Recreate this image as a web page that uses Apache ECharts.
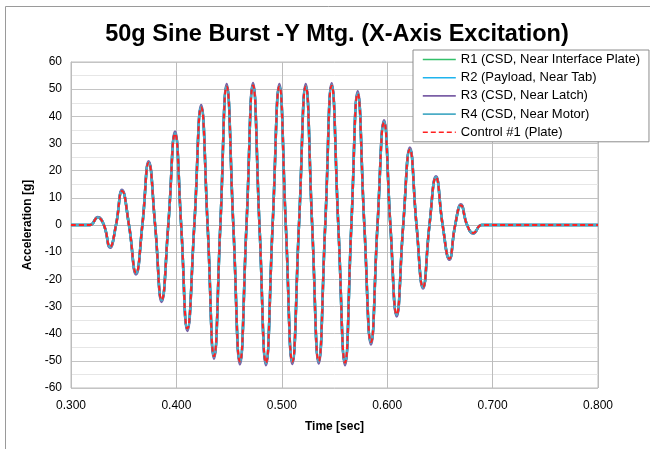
<!DOCTYPE html>
<html>
<head>
<meta charset="utf-8">
<script src="https://cdn.jsdelivr.net/npm/echarts@6/dist/echarts.min.js"></script>
<style>html,body{margin:0;padding:0;background:#fff;}#c{width:650px;height:449px;}</style>
</head>
<body>
<div id="c"></div>
<script>
var time = [0.300, 0.310, 0.318, 0.3253, 0.3312, 0.337, 0.3427, 0.3484, 0.3550, 0.3617, 0.3677, 0.3737, 0.3798, 0.386, 0.3923, 0.3987, 0.4045, 0.4104, 0.4170, 0.4235, 0.4296, 0.4357, 0.4417, 0.4477, 0.4540, 0.4603, 0.4665, 0.4727, 0.4788, 0.485, 0.4913, 0.4977, 0.5038, 0.510, 0.5163, 0.5227, 0.5288, 0.535, 0.5412, 0.5473, 0.5536, 0.560, 0.5660, 0.572, 0.5783, 0.5846, 0.5908, 0.597, 0.6030, 0.609, 0.6152, 0.6215, 0.6278, 0.634, 0.6401, 0.6463, 0.6526, 0.659, 0.6645, 0.670, 0.6758, 0.6817, 0.6897, 0.700, 0.800];

var r1 = [0, 0, 0, 2.8, 0, -8.1, 0, 12.6, 0, -17.7, 0, 23.0, 0, -27.7, 0, 33.8, 0, -38.3, 0, 43.5, 0, -48.5, 0, 51.2, 0, -50.5, 0, 51.6, 0, -50.9, 0, 51.2, 0, -50.5, 0, 51.2, 0, -50.3, 0, 51.5, 0, -50.9, 0, 48.5, 0, -43.3, 0, 38.0, 0, -33.1, 0, 28.0, 0, -23.0, 0, 17.6, 0, -12.5, 0, 7.4, 0, -3.0, 0, 0, 0];
var r2 = [0, 0, 0, 2.8, 0, -8.1, 0, 12.6, 0, -17.7, 0, 23.0, 0, -27.7, 0, 33.8, 0, -38.3, 0, 43.5, 0, -48.5, 0, 51.2, 0, -50.5, 0, 51.6, 0, -50.9, 0, 51.2, 0, -50.5, 0, 51.2, 0, -50.3, 0, 51.5, 0, -50.9, 0, 48.5, 0, -43.3, 0, 38.0, 0, -33.1, 0, 28.0, 0, -23.0, 0, 17.6, 0, -12.5, 0, 7.4, 0, -3.0, 0, 0, 0];
var r3 = [0, 0, 0, 2.9, 0, -8.4, 0, 13.0, 0, -18.2, 0, 23.5, 0, -28.3, 0, 34.4, 0, -39.0, 0, 44.2, 0, -49.2, 0, 51.9, 0, -51.3, 0, 52.3, 0, -51.6, 0, 51.9, 0, -51.2, 0, 51.9, 0, -51.0, 0, 52.2, 0, -51.6, 0, 49.2, 0, -44.0, 0, 38.6, 0, -33.7, 0, 28.5, 0, -23.4, 0, 17.9, 0, -12.8, 0, 7.6, 0, -3.1, 0, 0, 0];
var r4 = [0, 0, 0, 2.8, 0, -8.1, 0, 12.6, 0, -17.7, 0, 23.0, 0, -27.7, 0, 33.8, 0, -38.3, 0, 43.5, 0, -48.5, 0, 51.2, 0, -50.5, 0, 51.6, 0, -50.9, 0, 51.2, 0, -50.5, 0, 51.2, 0, -50.3, 0, 51.5, 0, -50.9, 0, 48.5, 0, -43.3, 0, 38.0, 0, -33.1, 0, 28.0, 0, -23.0, 0, 17.6, 0, -12.5, 0, 7.4, 0, -3.0, 0, 0, 0];
var control = [0, 0, 0, 2.7, 0, -8.0, 0, 12.5, 0, -17.6, 0, 22.9, 0, -27.6, 0, 33.6, 0, -38.1, 0, 43.3, 0, -48.3, 0, 51.0, 0, -50.3, 0, 51.4, 0, -50.7, 0, 51.0, 0, -50.3, 0, 51.0, 0, -50.1, 0, 51.3, 0, -50.7, 0, 48.3, 0, -43.1, 0, 37.8, 0, -32.9, 0, 27.8, 0, -22.9, 0, 17.5, 0, -12.4, 0, 7.3, 0, -2.9, 0, 0, 0];

var seriesNames = ['R1 (CSD, Near Interface Plate)', 'R2 (Payload, Near Tab)', 'R3 (CSD, Near Latch)', 'R4 (CSD, Near Motor)', 'Control #1 (Plate)'];
var seriesColors = ['#33c06a', '#1fb4ee', '#7b5fa6', '#4bacc6', '#ff2020'];
var seriesData = [r1, r2, r3, r4, control];

function pairs(vals) {
  return time.map(function (t, i) { return [t, vals[i]]; });
}

var chart = echarts.init(document.getElementById('c'), null, {renderer: 'canvas'});
var series = seriesData.map(function (vals, i) {
  var isCtrl = i === 4;
  return {
    name: seriesNames[i],
    type: 'line',
    data: pairs(vals),
    smooth: 0.5,
    symbol: 'none',
    z: 2 + i,
    lineStyle: {
      color: seriesColors[i],
      width: isCtrl ? 2 : 2.5,
      type: isCtrl ? [5, 3] : 'solid'
    },
    itemStyle: {color: seriesColors[i]}
  };
});

chart.setOption({
  animation: false,
  backgroundColor: '#fff',
  textStyle: {fontFamily: 'Liberation Sans, Arial, sans-serif'},
  graphic: [{
    type: 'rect',
    shape: {x: 5.5, y: 6.5, width: 700, height: 500},
    style: {fill: 'none', stroke: '#9a9a9a', lineWidth: 1},
    silent: true
  }],
  title: {
    text: '50g Sine Burst -Y Mtg. (X-Axis Excitation)',
    left: 332,
    textAlign: 'center',
    top: 18,
    textStyle: {fontSize: 23.5, fontWeight: 'bold', color: '#000', fontFamily: 'Liberation Sans, Arial, sans-serif'}
  },
  legend: {
    orient: 'vertical',
    left: 413,
    top: 50,
    padding: [3, 9, 3, 9],
    itemWidth: 33,
    itemHeight: 12,
    itemGap: 5.2,
    backgroundColor: '#fff',
    borderColor: '#8c8c8c',
    borderWidth: 1,
    borderRadius: 0,
    itemStyle: {opacity: 0},
    lineStyle: {width: 1.6},
    textStyle: {fontSize: 13, color: '#000', fontFamily: 'Liberation Sans, Arial, sans-serif'},
    data: seriesNames
  },
  grid: {
    left: 71, right: 52, top: 62, bottom: 61,
    show: true, borderColor: '#bcbcbc', borderWidth: 1
  },
  xAxis: {
    type: 'value',
    min: 0.3, max: 0.8, interval: 0.1,
    name: 'Time [sec]',
    nameLocation: 'middle',
    nameGap: 33,
    nameTextStyle: {fontSize: 12, fontWeight: 'bold', color: '#000'},
    axisLine: {show: true, lineStyle: {color: '#bcbcbc'}},
    axisTick: {show: false},
    axisLabel: {fontSize: 12, color: '#000', margin: 12, formatter: function (v) { return v.toFixed(3); }},
    splitLine: {show: true, lineStyle: {color: '#bcbcbc', width: 1}}
  },
  yAxis: {
    type: 'value',
    min: -60, max: 60, interval: 10,
    name: 'Acceleration [g]',
    nameLocation: 'middle',
    nameGap: 37,
    nameTextStyle: {fontSize: 12, fontWeight: 'bold', color: '#000'},
    axisLine: {show: true, lineStyle: {color: '#bcbcbc'}},
    axisTick: {show: false},
    axisLabel: {fontSize: 12, color: '#000', margin: 9},
    splitLine: {show: true, lineStyle: {color: '#c4c4c4', width: 1}},
    minorTick: {show: false, splitNumber: 2},
    minorSplitLine: {show: true, lineStyle: {color: '#e6e6e6', width: 1}}
  },
  series: series
});
</script>
</body>
</html>
